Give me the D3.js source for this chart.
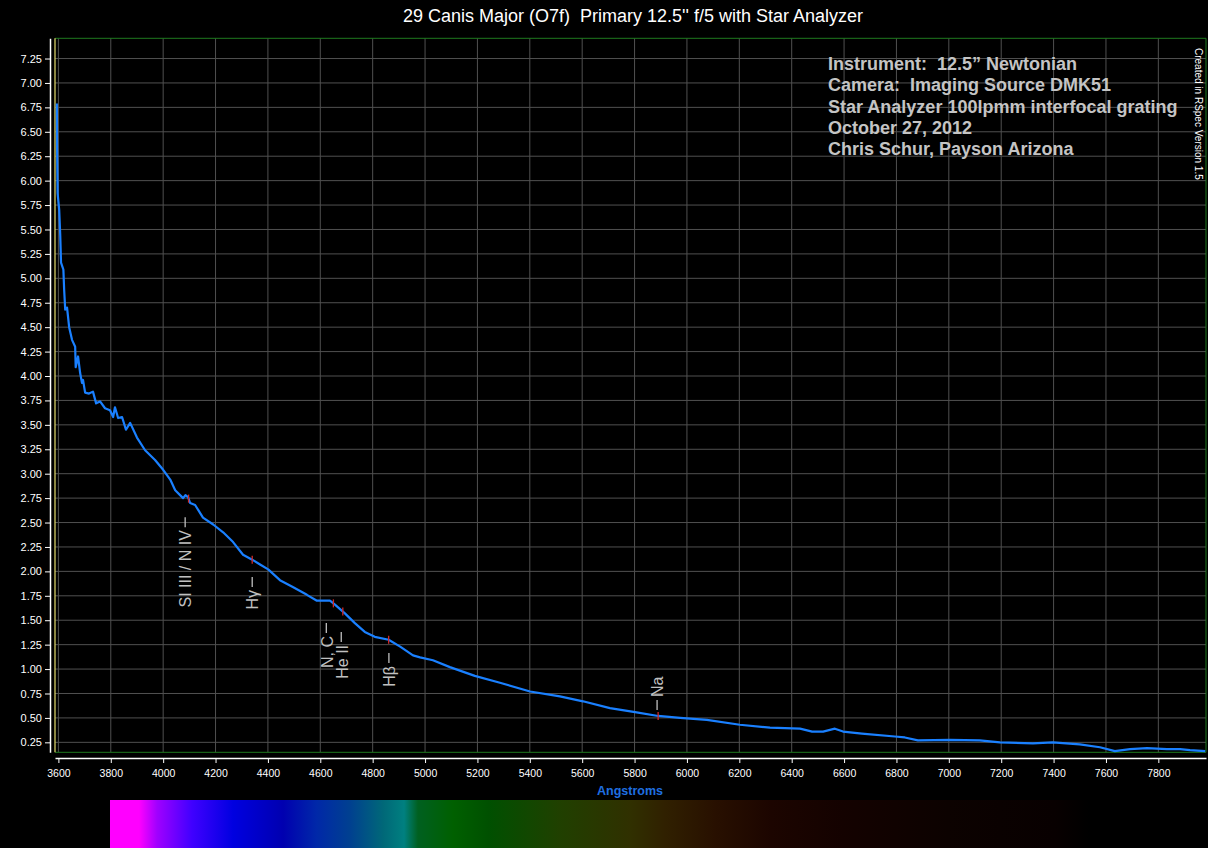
<!DOCTYPE html>
<meta charset="utf-8">
<html>
<head>
<style>
  body { margin: 0; background: #000; }
  #my_dataviz { background-color: #000; }
  text { font-family: "Liberation Sans", Arial, sans-serif; white-space: pre; }
  .axis path, .axis line { stroke: #fff; }
  .axis text { fill: #fff; }
</style>
<script src="https://d3js.org/d3.v7.min.js"></script>
</head>
<body>
<div id="my_dataviz"></div>
<script>
// spectrum of 29 CMa (Angstrom / relative flux)
var wavelength = [3594, 3595, 3597, 3603, 3607, 3610, 3619, 3622, 3626, 3633,
  3641, 3652, 3664, 3666, 3675, 3683, 3690, 3694, 3702, 3717,
  3732, 3744, 3759, 3778, 3797, 3809, 3816, 3828, 3843, 3858,
  3874, 3900, 3931, 3969, 4000, 4027, 4046, 4076, 4085, 4095,
  4103, 4122, 4152, 4191, 4229, 4267, 4305, 4340, 4370, 4401,
  4446, 4495, 4549, 4587, 4637, 4656, 4694, 4732, 4770, 4808,
  4861, 4905, 4954, 4981, 5030, 5095, 5190, 5286, 5401, 5515,
  5603, 5706, 5802, 5890, 5974, 6076, 6202, 6317, 6432, 6478,
  6520, 6565, 6596, 6668, 6794, 6832, 6882, 7004, 7118, 7195,
  7321, 7397, 7500, 7577, 7634, 7692, 7757, 7833, 7883, 7921, 7979];
var flux = [6.79, 6.33, 5.87, 5.70, 5.44, 5.16, 5.09, 4.88, 4.68, 4.70,
  4.50, 4.37, 4.30, 4.09, 4.20, 4.03, 3.93, 3.96, 3.83, 3.82,
  3.84, 3.72, 3.74, 3.67, 3.65, 3.58, 3.68, 3.57, 3.58, 3.45,
  3.52, 3.37, 3.24, 3.14, 3.04, 2.94, 2.83, 2.75, 2.78, 2.76,
  2.70, 2.68, 2.55, 2.48, 2.40, 2.30, 2.17, 2.12, 2.07, 2.02,
  1.91, 1.84, 1.76, 1.70, 1.70, 1.66, 1.57, 1.47, 1.38, 1.33,
  1.30, 1.23, 1.14, 1.12, 1.09, 1.02, 0.93, 0.86, 0.77, 0.72,
  0.67, 0.60, 0.56, 0.52, 0.50, 0.48, 0.43, 0.40, 0.39, 0.36,
  0.36, 0.39, 0.36, 0.34, 0.31, 0.30, 0.27, 0.275, 0.27, 0.25,
  0.24, 0.25, 0.23, 0.20, 0.16, 0.18, 0.19, 0.18, 0.18, 0.17, 0.16];

var xTicks = [3600, 3800, 4000, 4200, 4400, 4600, 4800, 5000, 5200, 5400, 5600,
  5800, 6000, 6200, 6400, 6600, 6800, 7000, 7200, 7400, 7600, 7800];
var yTicks = [0.25, 0.50, 0.75, 1.00, 1.25, 1.50, 1.75, 2.00, 2.25, 2.50, 2.75,
  3.00, 3.25, 3.50, 3.75, 4.00, 4.25, 4.50, 4.75, 5.00, 5.25, 5.50, 5.75,
  6.00, 6.25, 6.50, 6.75, 7.00, 7.25];

// identified lines
var lineNames = ["SI III / N IV", "H\u03b3", "N, C", "He II", "H\u03b2", "Na"];
var lineWl = [4097, 4340, 4650, 4686, 4861, 5890];
var labelWl = [4084, 4340, 4623, 4680, 4862, 5886];
var labelAt = [2.555, 1.943, 1.472, 1.38, 1.165, 0.58];
var labelAbove = [false, false, false, false, false, true];

var notes = ["Instrument:  12.5\u201d Newtonian",
  "Camera:  Imaging Source DMK51",
  "Star Analyzer 100lpmm interfocal grating",
  "October 27, 2012",
  "Chris Schur, Payson Arizona"];

// colour strip under the axis
var specWl = [3797, 3908, 3977, 4110, 4267, 4458, 4586, 4713, 4840, 4920, 4973,
  5107, 5244, 5512, 5783, 5917, 6108, 6322, 6593, 6997, 7402, 7540, 7800];
var specColor = ["#ff00ff", "#ff00ff", "#a000ff", "#4000ff", "#0000e0", "#0000b0",
  "#0028a8", "#004090", "#006878", "#008080", "#006020", "#006000", "#005000",
  "#204000", "#303000", "#302000", "#281000", "#1c0500", "#140200", "#0c0200",
  "#080000", "#000000", "#000000"];

var W = 1208, H = 848;
var svg = d3.select("#my_dataviz").append("svg")
  .attr("width", W).attr("height", H)
  .style("display", "block");

svg.append("rect").attr("width", W).attr("height", H).attr("fill", "#000");

var x = d3.scaleLinear().domain([3587, 7982]).range([55, 1206]);
var y = d3.scaleLinear().domain([0.148, 7.457]).range([752.3, 38.3]);

// grid
svg.append("g").selectAll("line").data(xTicks).enter().append("line")
  .attr("x1", d => x(d)).attr("x2", d => x(d))
  .attr("y1", y.range()[1]).attr("y2", y.range()[0])
  .attr("stroke", "#505050").attr("stroke-width", 1);
svg.append("g").selectAll("line").data(yTicks).enter().append("line")
  .attr("x1", x.range()[0]).attr("x2", x.range()[1])
  .attr("y1", d => y(d)).attr("y2", d => y(d))
  .attr("stroke", "#505050").attr("stroke-width", 1);

// frame
svg.append("line").attr("x1", x.range()[0]).attr("x2", x.range()[1])
  .attr("y1", y.range()[1]).attr("y2", y.range()[1]).attr("stroke", "#1f7a1f");
svg.append("line").attr("x1", x.range()[0]).attr("x2", x.range()[1])
  .attr("y1", y.range()[0]).attr("y2", y.range()[0]).attr("stroke", "#1f7a1f");
svg.append("line").attr("x1", x.range()[1]).attr("x2", x.range()[1])
  .attr("y1", y.range()[1]).attr("y2", y.range()[0]).attr("stroke", "#1f7a1f");
svg.append("line").attr("x1", x.range()[0]).attr("x2", x.range()[0])
  .attr("y1", y.range()[1]).attr("y2", y.range()[0])
  .attr("stroke", "#e8e070").attr("stroke-width", 1.2);

// axes
var yAxis = svg.append("g").attr("class", "axis")
  .attr("transform", "translate(50,0)")
  .call(d3.axisLeft(y).tickValues(yTicks).tickFormat(d3.format(".2f"))
    .tickSize(5).tickSizeOuter(0).tickPadding(3));
yAxis.selectAll("text").style("font-size", "11px");

var xAxis = svg.append("g").attr("class", "axis")
  .attr("transform", "translate(0,758)")
  .call(d3.axisBottom(x).tickValues(xTicks).tickFormat(d3.format("d"))
    .tickSize(5).tickSizeOuter(0).tickPadding(7));
xAxis.selectAll("text").style("font-size", "10.5px");
svg.selectAll(".axis path").attr("stroke-width", 1.5);

svg.append("text")
  .attr("x", 630).attr("y", 795)
  .attr("text-anchor", "middle")
  .style("font-size", "12.5px").style("font-weight", "bold")
  .attr("fill", "#1f6fe0")
  .text("Angstroms");

// spectrum curve
var pts = wavelength.map((w, i) => [w, flux[i]]);
svg.append("path")
  .datum(pts)
  .attr("fill", "none")
  .attr("stroke", "#1a80ff")
  .attr("stroke-width", 2.2)
  .attr("stroke-linejoin", "round")
  .attr("d", d3.line().x(d => x(d[0])).y(d => y(d[1])));

// flux on the curve at a given wavelength
function fluxAt(w) {
  var i = d3.bisectLeft(wavelength, w);
  if (i <= 0) return flux[0];
  var t = (w - wavelength[i - 1]) / (wavelength[i] - wavelength[i - 1]);
  return flux[i - 1] + t * (flux[i] - flux[i - 1]);
}

// line markers and labels
lineNames.forEach(function(name, i) {
  var cy = y(fluxAt(lineWl[i]));
  svg.append("line")
    .attr("x1", x(lineWl[i])).attr("x2", x(lineWl[i]))
    .attr("y1", cy - 4).attr("y2", cy + 4)
    .attr("stroke", "#d02828").attr("stroke-width", 1.3);

  var lx = x(labelWl[i]), ly = y(labelAt[i]);
  var dir = labelAbove[i] ? -1 : 1;
  svg.append("line")
    .attr("x1", lx).attr("x2", lx)
    .attr("y1", ly).attr("y2", ly + dir * 10)
    .attr("stroke", "#c0c0c0").attr("stroke-width", 1.3);
  svg.append("text")
    .attr("transform", "translate(" + (lx + 0.5) + "," + (ly + dir * 13) + ") rotate(-90)")
    .attr("text-anchor", labelAbove[i] ? "start" : "end")
    .attr("dy", "0.36em")
    .style("font-size", "16px")
    .attr("fill", "#c0c0c0")
    .text(name);
});

// title
svg.append("text")
  .attr("x", 633).attr("y", 22)
  .attr("text-anchor", "middle")
  .style("font-size", "18px")
  .attr("fill", "#fff")
  .text("29 Canis Major (O7f)  Primary 12.5'' f/5 with Star Analyzer");

// observing notes
svg.append("g").selectAll("text").data(notes).enter().append("text")
  .attr("x", 828).attr("y", (d, i) => 70 + i * 21.3)
  .style("font-size", "18px").style("font-weight", "bold")
  .attr("fill", "#c4c4c4")
  .text(d => d);

svg.append("text")
  .attr("transform", "translate(1195,48) rotate(90)")
  .style("font-size", "10px")
  .style("font-family", "'Liberation Sans Narrow', 'Arial Narrow', sans-serif")
  .attr("fill", "#fff")
  .text("Created in RSpec Version 1.5");

// colour strip
var grad = svg.append("defs").append("linearGradient")
  .attr("id", "spec").attr("gradientUnits", "userSpaceOnUse")
  .attr("x1", x(specWl[0])).attr("x2", x(specWl[specWl.length - 1]))
  .attr("y1", 0).attr("y2", 0);
var span = x(specWl[specWl.length - 1]) - x(specWl[0]);
specWl.forEach(function(w, i) {
  grad.append("stop")
    .attr("offset", (x(w) - x(specWl[0])) / span)
    .attr("stop-color", specColor[i]);
});
svg.append("rect")
  .attr("x", x(specWl[0])).attr("y", 800)
  .attr("width", span).attr("height", 48)
  .attr("fill", "url(#spec)");
</script>
</body>
</html>
